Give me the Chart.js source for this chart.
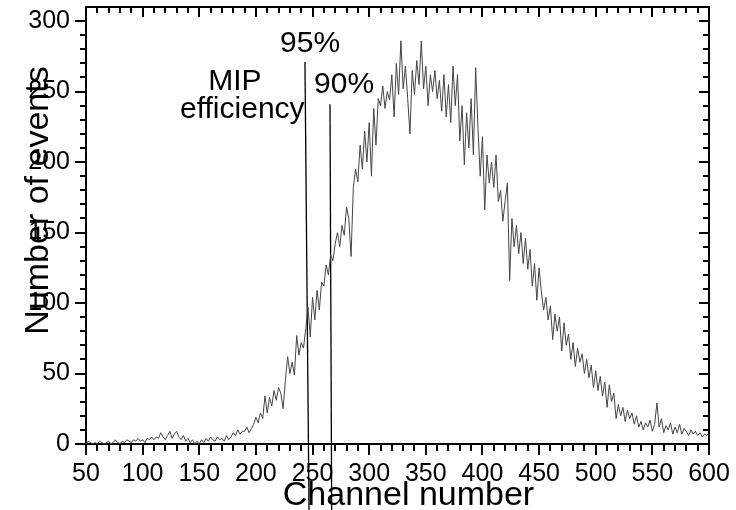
<!DOCTYPE html>
<html>
<head>
<meta charset="utf-8">
<script src="https://cdn.jsdelivr.net/npm/chart.js@4.4.1/dist/chart.umd.min.js"></script>
<style>
  html, body { margin: 0; padding: 0; background: #fff; }
  #chart { display: block; }
</style>
</head>
<body>
<canvas id="chart" width="736" height="510"></canvas>
<script>
// histogram bins: first channel and width of a bin
const firstChannel = 50;
const channelStep = 2;

// number of events per bin (one value every 2 channels)
const counts = [
    0, 2, 1, 0, 1, 0, 2, 1, 0, 1,            // 50
    2, 0, 1, 3, 1, 0, 2, 1, 3, 2,            // 70
    1, 3, 2, 4, 2, 3, 1, 4, 3, 5,            // 90
    3, 5, 4, 8, 5, 3, 6, 9, 4, 7,            // 110
    9, 5, 3, 6, 2, 4, 1, 3, 0, 2,            // 130
    0, 3, 1, 4, 2, 5, 3, 2, 5, 3,            // 150
    4, 2, 6, 3, 5, 8, 6, 10, 7, 9,           // 170
    9, 12, 8, 11, 14, 19, 15, 22, 18, 34,    // 190
    22, 33, 27, 38, 31, 40, 36, 25, 45, 62,  // 210
    50, 58, 49, 77, 63, 72, 68, 82, 97, 76,  // 230
    104, 88, 109, 95, 115, 112, 127, 120, 134, 130, // 250
    142, 150, 140, 155, 148, 168, 160, 133, 182, 195, // 270
    186, 212, 195, 222, 200, 228, 190, 238, 212, 245, // 290
    240, 254, 238, 250, 244, 262, 232, 270, 248, 286, // 310
    252, 268, 245, 220, 265, 248, 272, 255, 286, 252, // 330
    268, 240, 262, 250, 265, 245, 258, 236, 262, 232, // 350
    255, 228, 268, 240, 262, 215, 240, 198, 235, 210, // 370
    245, 205, 267, 225, 190, 218, 166, 205, 185, 200, // 390
    182, 205, 172, 180, 158, 172, 185, 116, 160, 140, // 410
    155, 135, 150, 128, 146, 124, 138, 112, 128, 102, // 430
    125, 108, 95, 104, 88, 98, 74, 92, 80, 90,        // 450
    66, 86, 70, 78, 60, 72, 55, 68, 58, 64,           // 470
    50, 60, 47, 56, 40, 52, 38, 48, 34, 44,           // 490
    26, 42, 30, 36, 18, 28, 20, 26, 16, 24,           // 510
    18, 22, 14, 20, 12, 16, 10, 15, 12, 17,           // 530
    9, 14, 29, 12, 18, 8, 13, 10, 15, 7,              // 550
    12, 8, 14, 7, 11, 9, 6, 10, 7, 9,                 // 570
    6, 8, 5, 7, 6, 8                                  // 590
];

// efficiency cut lines (top end, bottom end), in channel / events
const cut95 = [{ x: 243.3, y: 271 }, { x: 246.9, y: -47 }];
const cut90 = [{ x: 265.4, y: 241 }, { x: 266.9, y: -47 }];

// text notes, anchored in channel / events
const noteTexts = ["95%", "90%", "MIP", "efficiency"];
const noteX = [247.8, 277.8, 181.5, 188];
const noteY = [278, 249, 251, 231];

// axes
const xTickValues = [50, 100, 150, 200, 250, 300, 350, 400, 450, 500, 550, 600];
const yTickValues = [0, 50, 100, 150, 200, 250, 300];
const xMin = 50, xMax = 600, xMinor = 10;
const yMin = 0, yMax = 310, yMinor = 10;
const xTitle = "Channel number";
const yTitle = "Number of events";

const font = "'Liberation Sans', Arial, sans-serif";

const histo = counts.map((c, i) => ({ x: firstChannel + i * channelStep, y: c }));

// frame, minor ticks, notes and axis titles
const framePlugin = {
    id: "frame",
    afterDraw(chart) {
        const { ctx, chartArea: a, scales } = chart;
        const sx = scales.x, sy = scales.y;

        function line(x1, y1, x2, y2) {
            ctx.beginPath();
            ctx.moveTo(x1, y1);
            ctx.lineTo(x2, y2);
            ctx.stroke();
        }

        ctx.save();
        ctx.strokeStyle = "#000";
        ctx.lineWidth = 2;
        line(a.left - 1, a.top, a.right + 1, a.top);
        line(a.right, a.top, a.right, a.bottom);

        for (let v = xMin; v <= xMax; v += xMinor) {
            const px = Math.round(sx.getPixelForValue(v));
            const major = xTickValues.includes(v);
            if (!major) line(px, a.bottom, px, a.bottom + 7);
            line(px, a.top, px, a.top + (major ? 10 : 6));
        }
        for (let v = yMin; v <= yTickValues[yTickValues.length - 1]; v += yMinor) {
            const py = Math.round(sy.getPixelForValue(v));
            const major = yTickValues.includes(v);
            if (!major) line(a.left - 6, py, a.left, py);
            line(a.right - (major ? 10 : 6), py, a.right, py);
        }

        ctx.fillStyle = "#000";
        ctx.textAlign = "center";
        ctx.textBaseline = "alphabetic";
        ctx.font = "30px " + font;
        noteTexts.forEach((t, i) => {
            ctx.fillText(t, sx.getPixelForValue(noteX[i]), sy.getPixelForValue(noteY[i]));
        });

        ctx.font = "34px " + font;
        ctx.fillText(xTitle, (a.left + a.right) / 2 + 11, a.bottom + 61);

        ctx.translate(a.left - 38, (a.top + a.bottom) / 2 - 25);
        ctx.rotate(-Math.PI / 2);
        ctx.fillText(yTitle, 0, 0);
        ctx.restore();
    }
};

const ctx = document.getElementById("chart").getContext("2d");

const chart = new Chart(ctx, {
    type: "line",
    data: {
        datasets: [
            {
                label: "events",
                data: histo,
                borderColor: "#444",
                borderWidth: 1,
                pointRadius: 0,
                tension: 0
            },
            {
                label: "95%",
                data: cut95,
                borderColor: "#000",
                borderWidth: 1.3,
                pointRadius: 0,
                clip: false
            },
            {
                label: "90%",
                data: cut90,
                borderColor: "#000",
                borderWidth: 1.3,
                pointRadius: 0,
                clip: false
            }
        ]
    },
    options: {
        responsive: false,
        animation: false,
        layout: { padding: { top: 7, right: 27, left: 0, bottom: 0 } },
        plugins: {
            legend: { display: false },
            tooltip: { enabled: false }
        },
        scales: {
            x: {
                type: "linear",
                min: xMin,
                max: xMax,
                ticks: {
                    color: "#000",
                    font: { size: 25, family: font },
                    padding: 4,
                    maxRotation: 0,
                    autoSkip: false
                },
                grid: { drawOnChartArea: false, tickLength: 11, color: "#000", lineWidth: 2 },
                border: { color: "#000", width: 2 },
                afterBuildTicks(s) {
                    s.ticks = xTickValues.map(v => ({ value: v }));
                },
                afterFit(s) {
                    s.height = 66;
                    s.paddingLeft = 0;
                    s.paddingRight = 0;
                }
            },
            y: {
                type: "linear",
                min: yMin,
                max: yMax,
                ticks: {
                    color: "#000",
                    font: { size: 25, family: font },
                    padding: 5,
                    autoSkip: false
                },
                grid: { drawOnChartArea: false, tickLength: 11, color: "#000", lineWidth: 2 },
                border: { color: "#000", width: 2 },
                afterBuildTicks(s) {
                    s.ticks = yTickValues.map(v => ({ value: v }));
                },
                afterFit(s) {
                    s.width = 86;
                    s.paddingTop = 0;
                    s.paddingBottom = 0;
                }
            }
        }
    },
    plugins: [framePlugin]
});
</script>
</body>
</html>
